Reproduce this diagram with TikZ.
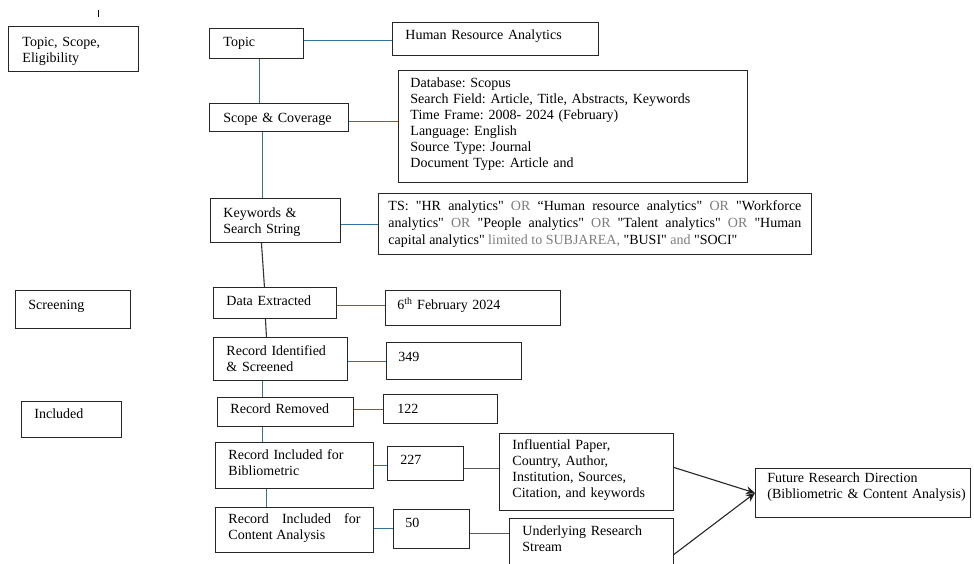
\documentclass[tikz,border=0pt]{standalone}
\usepackage{fontspec}
\setmainfont{Liberation Serif}[Ligatures=TeXOff]
\usetikzlibrary{arrows.meta}
\definecolor{linkblue}{RGB}{52,114,158}
\definecolor{ordim}{RGB}{125,125,125}
\newcommand\dimword[1]{\textcolor{ordim}{#1}}
\frenchspacing

\begin{document}
\begin{tikzpicture}[x=1pt, y=-1pt,
    box/.style={draw=black!85, line width=0.9pt, anchor=north west, inner ysep=0pt, inner xsep=13pt,
      align=left, text height=18pt, font=\fontsize{14}{16}\selectfont},
    blueline/.style={draw=linkblue, line width=1.3pt},
    darkline/.style={draw=black!80, line width=1.1pt},
    greyline/.style={draw=black!65, line width=1.8pt},
    arrowline/.style={draw=black!85, line width=1.1pt, -{Stealth[length=9pt,width=8pt,fill=black]}}]
    \useasboundingbox (0,0) rectangle (974,564);
    \clip (0,0) rectangle (974,564);
    \fill[white] (0,0) rectangle (974,564);
    \draw[line width=1pt] (98,10.5) -- (98,17);

    % stage labels on the left
    \node[box, inner xsep=14pt, text width=102pt, text height=20pt, text depth=25pt] (tse) at (8,26) {Topic, Scope,\\Eligibility};
    \node[box, text width=89pt, text height=19pt, text depth=19pt] (screening) at (15,290) {Screening};
    \node[box, text width=74pt, text height=17pt, text depth=19pt] (included) at (21,401) {Included};

    % main column
    \node[box, inner xsep=14pt, text width=66pt, text depth=12pt] (topic) at (209,28) {Topic};
    \node[box, inner xsep=14pt, text width=111pt, text height=19pt, text depth=9pt] (scope) at (209,103) {Scope \& Coverage};
    \node[box, text width=104pt, text height=19pt, text depth=25pt] (kw) at (210,198) {Keywords \&\\Search String};
    \node[box, text width=97pt, text depth=13pt] (data) at (213,287) {Data Extracted};
    \node[box, text width=108pt, text depth=25pt] (ident) at (213,337) {Record Identified\\\& Screened};
    \node[box, text width=110pt, text height=16pt, text depth=13pt] (removed) at (217,397) {Record Removed};
    \node[box, text width=132pt, text height=17pt, text depth=29pt] (biblio) at (215,442) {Record Included for\\Bibliometric};
    \node[box, align=justify, text width=132pt, text height=16pt, text depth=29pt] (content) at (215,507) {Record Included for\linebreak Content Analysis};

    % details
    \node[box, text width=180pt, text height=17pt, text depth=16pt] (hra) at (392,22) {Human Resource Analytics};
    \node[box, inner xsep=12pt, text width=325pt, text height=17pt, text depth=95pt] (db) at (398,70)
      {Database: Scopus\\Search Field: Article, Title, Abstracts, Keywords\\Time Frame: 2008- 2024 (February)\\Language: English\\Source Type: Journal\\Document Type: Article and};
    \node[box, align=justify, inner xsep=10pt, text width=413pt, text height=17pt, text depth=44pt,
      font=\fontsize{14}{17}\selectfont] (ts) at (378,193)
      {TS: "HR analytics" \dimword{OR} “Human resource analytics" \dimword{OR} "Workforce\linebreak
       analytics" \dimword{OR} "People analytics" \dimword{OR} "Talent analytics" \dimword{OR} "Human\linebreak
       capital analytics" \dimword{limited to SUBJAREA,} "BUSI" \dimword{and} "SOCI"};
    \node[box, inner xsep=12pt, text width=151pt, text height=19pt, text depth=16pt] (feb) at (385,290) {6\textsuperscript{th} February 2024};
    \node[box, inner xsep=12pt, text width=111pt, text height=19pt, text depth=18pt] (n349) at (386,342) {349};
    \node[box, inner xsep=14pt, text width=86pt, text height=19pt, text depth=10pt] (n122) at (383,394) {122};
    \node[box, text width=50pt, text depth=16pt] (n227) at (387,446) {227};
    \node[box, inner xsep=12pt, text width=52pt, text depth=21pt] (n50) at (393,509) {50};
    \node[box, text width=148pt, text height=16pt, text depth=61pt] (infl) at (499,433)
      {Influential Paper,\\Country, Author,\\Institution, Sources,\\Citation, and keywords};
    \node[box, text width=138pt, text height=17pt, text depth=55pt] (under) at (509,518) {Underlying Research\\Stream};
    \node[box, inner xsep=12pt, text width=191pt, text height=14pt, text depth=35pt] (future) at (755,468)
      {Future Research Direction\\\mbox{(Bibliometric \& Content Analysis)}};

    % connectors
    \draw[blueline] ([yshift=3pt]topic.east) -- ([yshift=3pt]topic.east -| hra.west);
    \draw[blueline] ([xshift=3pt]topic.south) -- ([xshift=3pt]topic.south |- scope.north);
    \draw[blueline] ([yshift=-4pt]scope.east) -- ([yshift=-4pt]scope.east -| db.west);
    \draw[blueline] ([xshift=-16.5pt]scope.south) -- ([xshift=-16.5pt]scope.south |- kw.north);
    \draw[blueline] ([yshift=-4pt]kw.east) -- ([yshift=-4pt]kw.east -| ts.west);
    \draw[darkline] ([xshift=-14pt]kw.south) -- ([xshift=-10.5pt]data.north);
    \draw[blueline] ([yshift=-2.5pt]data.east) -- ([yshift=-2.5pt]data.east -| feb.west);
    \draw[darkline] ([xshift=-9.5pt]data.south) -- ([xshift=-14pt]ident.north);
    \draw[blueline] ([yshift=-2.5pt]ident.east) -- ([yshift=-2.5pt]ident.east -| n349.west);
    \draw[blueline] ([xshift=-18pt]ident.south) -- ([xshift=-23pt]removed.north);
    \draw[blueline] ([yshift=2.5pt]removed.east) -- ([yshift=2.5pt]removed.east -| n122.west);
    \draw[blueline] ([xshift=-23pt]removed.south) -- ([xshift=-32pt]biblio.north);
    \draw[blueline] (biblio.east) -- (biblio.east -| n227.west);
    \draw[blueline] ([xshift=-28pt]biblio.south) -- ([xshift=-28pt]content.north);
    \draw[blueline] ([yshift=1.5pt]content.east) -- ([yshift=1.5pt]content.east -| n50.west);
    \draw[greyline] ([yshift=-5pt]n227.east) -- ([yshift=-5pt]n227.east -| infl.west);
    \draw[greyline] ([yshift=-4.5pt]n50.east) -- ([yshift=-4.5pt]n50.east -| under.west);
    \draw[arrowline] ([yshift=4.5pt]infl.east) -- (future.west);
    \draw[arrowline] (under.east) -- (future.west);
\end{tikzpicture}
\end{document}
